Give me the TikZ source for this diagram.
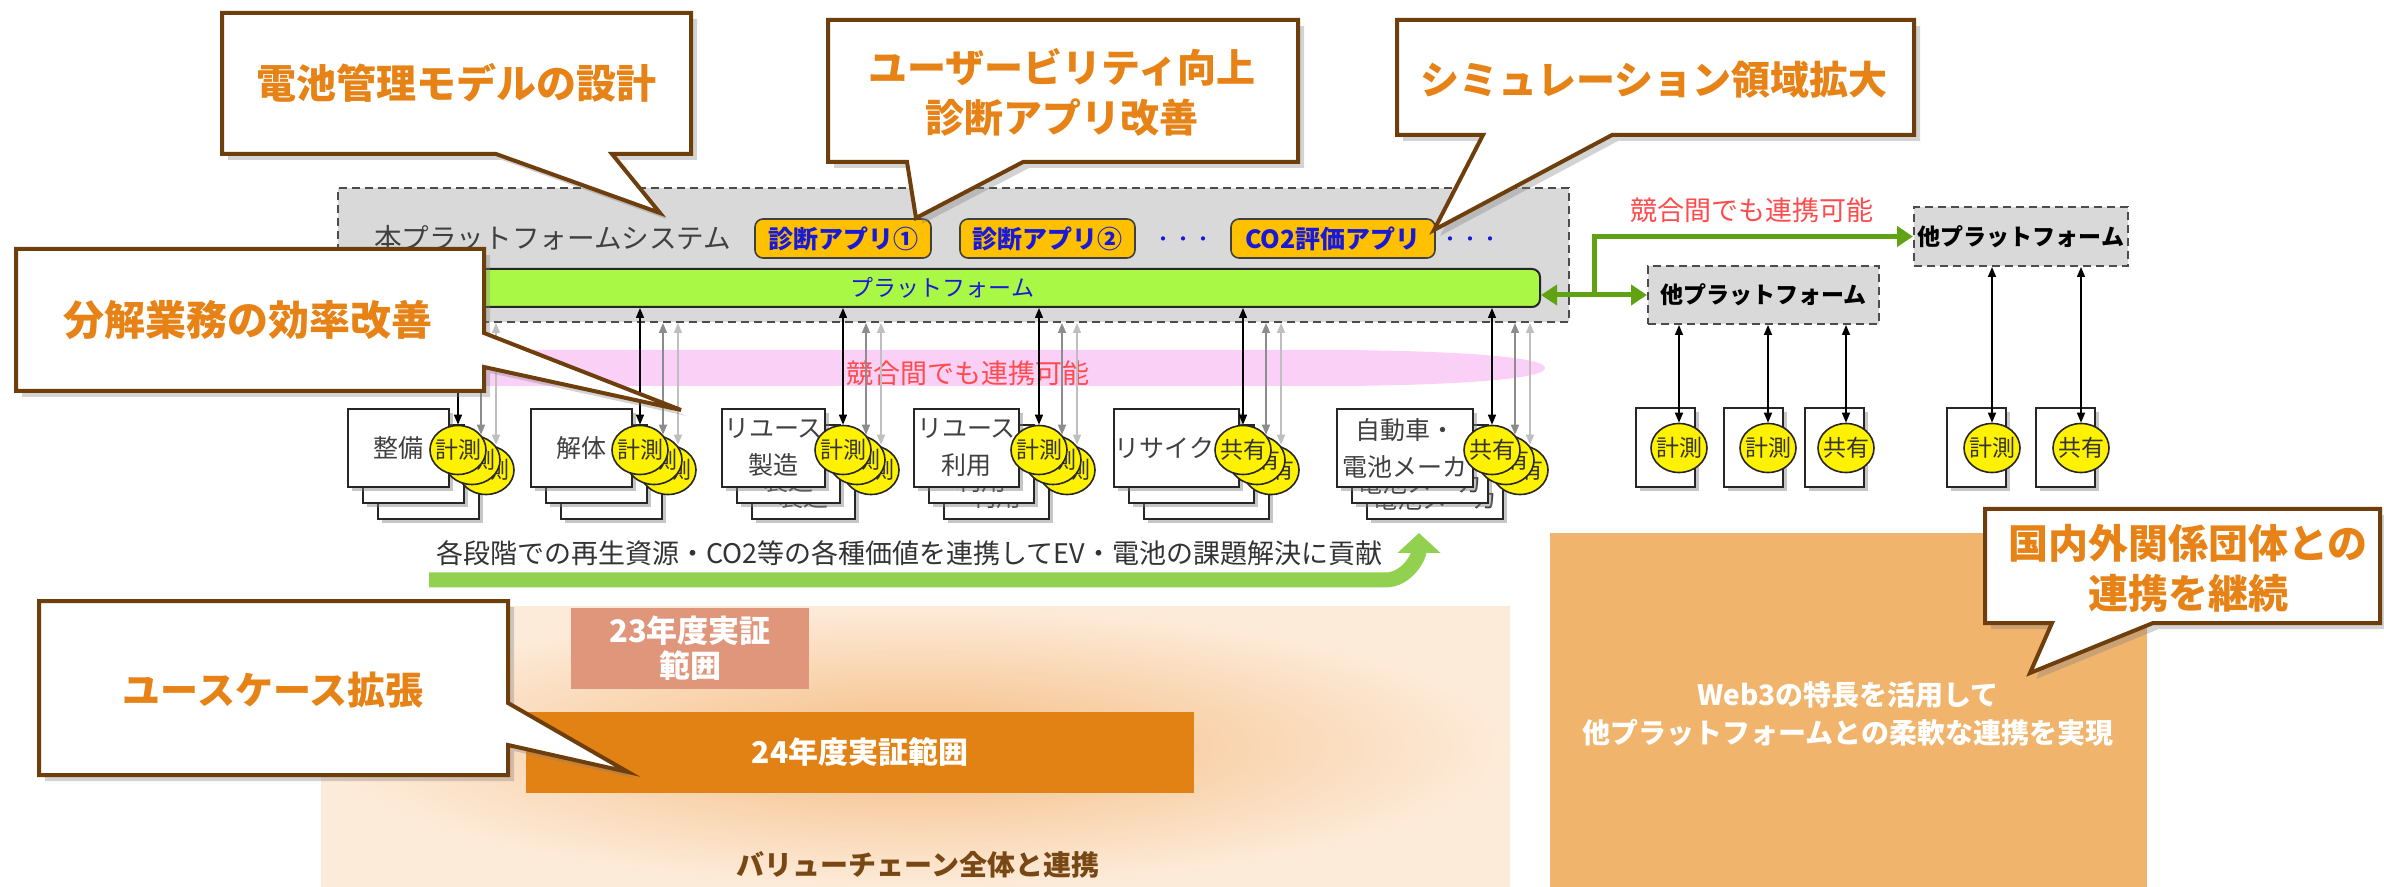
\documentclass[tikz,border=0pt]{standalone}
\usepackage{fontspec}
\setmainfont{Noto Sans CJK JP}
\usetikzlibrary{arrows.meta,shadows,shapes.geometric,fit}
\definecolor{cbrown}{RGB}{110,62,12}
\definecolor{corange}{RGB}{230,130,22}
\definecolor{appfill}{RGB}{255,192,0}
\definecolor{appblue}{RGB}{25,25,215}
\definecolor{barfill}{RGB}{170,248,70}
\definecolor{sysgray}{RGB}{217,217,217}
\definecolor{redtxt}{RGB}{255,75,75}
\definecolor{pinkband}{RGB}{250,208,246}
\definecolor{ggreen}{RGB}{96,163,18}
\definecolor{lgreen}{RGB}{146,208,80}
\definecolor{salmon}{RGB}{224,150,122}
\definecolor{dorange}{RGB}{227,130,20}
\definecolor{webfill}{RGB}{241,180,108}
\definecolor{panelin}{RGB}{245,188,130}
\definecolor{panelout}{RGB}{253,235,217}
\definecolor{brtxt}{RGB}{120,72,20}
\newcommand\fsz[2]{\fontsize{#1}{#2}\selectfont}
\newcommand\mkstack[6]{%
  \foreach \o/\dx/\dy in {2/30/32,1/15/16,0/0/0}{%
    \node[srect,fit={(#2+\dx,409+\dy)(#3+\dx,487+\dy)},label={[stext]center:{#4}}] (#1r\o) {};
  }%
  \foreach \o/\dx/\dy in {2/28/20,1/14/10,0/0/0}{%
    \node[yell,label={[etext]center:#6}] (#1e\o) at (#5+\dx,450+\dy) {};
  }%
}
\begin{document}
\begin{tikzpicture}[x=0.5pt,y=-0.5pt,
  callout/.style={draw=cbrown,line width=2pt,fill=white,line join=miter,drop shadow={opacity=0.35,shadow xshift=3pt,shadow yshift=-3pt}},
  ctext/.style={text=corange,font=\bfseries\fsz{20}{25},align=center},
  sysbox/.style={draw=black!70,dash pattern=on 4pt off 2.5pt,line width=1pt,fill=sysgray,inner sep=0pt},
  app/.style={draw=black!75,line width=0.8pt,fill=appfill,rounded corners=4pt,inner sep=0pt},
  apptext/.style={text=appblue,font=\bfseries\fsz{12.5}{12.5}},
  barst/.style={draw=black!85,line width=1pt,fill=barfill,rounded corners=4pt,inner sep=0pt},
  srect/.style={draw=black!85,fill=white,line width=0.8pt,inner sep=0pt,drop shadow={opacity=0.45,shadow xshift=2pt,shadow yshift=-2pt}},
  stext/.style={text=black!75,font=\fsz{12.5}{18.5},align=center},
  yell/.style={ellipse,draw=black!85,fill=yellow,line width=0.8pt,minimum width=28pt,minimum height=24.5pt,inner sep=0pt},
  etext/.style={text=black!80,font=\fsz{11.5}{11.5}},
  dbl/.style={<->,>={Triangle[length=5pt,width=4pt]},line width=0.75pt,draw=black},
  dblg/.style={dbl,draw=black!45},
  dbll/.style={dbl,draw=black!25},
  garrow/.style={draw=ggreen,line width=2.5pt},
  redt/.style={text=redtxt,font=\fsz{13.5}{13.5}},
  otherp/.style={sysbox,label={[font=\bfseries\fsz{11.5}{11.5}]center:他プラットフォーム}}
]
\useasboundingbox (0,0) rectangle (2384,887);

% ---------- bottom panels ----------
\node[fit={(321,606)(1510,887)},inner sep=0pt,shade,inner color=panelin,outer color=panelout] (panel) {};
\node[fit={(571,608)(809,689)},inner sep=0pt,fill=salmon,
  label={[text=white,font=\bfseries\fsz{15.5}{17.5},align=center]center:{23年度実証\\範囲}}] (y23) {};
\node[fit={(526,712)(1194,793)},inner sep=0pt,fill=dorange,
  label={[text=white,font=\bfseries\fsz{15}{15}]center:24年度実証範囲}] (y24) {};
\node[text=brtxt,font=\bfseries\fsz{14}{14}] (vc) at (918,865) {バリューチェーン全体と連携};
\node[fit={(1550,533)(2147,887)},inner sep=0pt,fill=webfill] (web) {};
\node[text=white,font=\bfseries\fsz{14}{19},align=center] (webt) at (1848,714) {Web3の特長を活用して\\他プラットフォームとの柔軟な連携を実現};

% ---------- platform system ----------
\node[sysbox,fit={(338,188)(1569,322)}] (sys) {};
\node[anchor=west,text=black!75,font=\fsz{13.8}{13.8}] (systitle) at (367,238) {本プラットフォームシステム};
\node[app,fit={(755,219)(931,258)},label={[apptext]center:診断アプリ①}] (a1) {};
\node[app,fit={(960,219)(1135,258)},label={[apptext]center:診断アプリ②}] (a2) {};
\node[text=appblue,font=\fsz{10}{10}] (dots1) at (1183,242) {・・・};
\node[app,fit={(1231,219)(1435,258)},label={[apptext]center:CO2評価アプリ}] (a3) {};
\node[text=appblue,font=\fsz{10}{10}] (dots2) at (1470,242) {・・・};
\node[barst,fit={(345,269)(1540,307)},label={[text=appblue,font=\fsz{11.5}{11.5}]center:プラットフォーム}] (bar) {};

% pink band
\path[fill=pinkband] (330,350) -- (1350,350) .. controls (1500,352) and (1545,360) .. (1545,368)
  .. controls (1545,376) and (1500,384) .. (1350,386) -- (330,386) -- cycle;
\node[redt] (comp1) at (968,373) {競合間でも連携可能};

% ---------- stakeholder stacks ----------
\mkstack{s1}{348}{449}{整備}{458}{計測}
\mkstack{s2}{531}{632}{解体}{640}{計測}
\mkstack{s3}{722}{825}{リユース\\製造}{843}{計測}
\mkstack{s4}{914}{1019}{リユース\\利用}{1039}{計測}
\mkstack{s5}{1114}{1239}{リサイクル}{1243}{共有}
\mkstack{s6}{1337}{1473}{自動車・\\電池メーカ}{1492}{共有}

\foreach \n in {s1,s2,s3,s4,s5,s6}{
  \draw[dbll] ([xshift=5pt]\n e2.north |- sys.south) -- ([xshift=5pt]\n e2.north);
  \draw[dblg] ([xshift=4.5pt]\n e1.north |- sys.south) -- ([xshift=4.5pt]\n e1.north);
  \draw[dbl] (\n e0.north |- bar.south) -- (\n e0.north);
}

% ---------- other platforms ----------
\node[otherp,fit={(1648,266)(1879,324)}] (lowP) {};
\node[otherp,fit={(1914,207)(2128,266)}] (upP) {};
\node[redt] (comp2) at (1752,210) {競合間でも連携可能};
\coordinate (jn) at (1594,295);
\draw[garrow,<->,>={Triangle[length=8pt,width=10pt]}] (bar.east |- jn) -- (lowP.west |- jn);
\draw[garrow,->,>={Triangle[length=8pt,width=10pt]}] (jn) |- (upP.west);

\foreach \n/\l/\cx/\t in {rA/1636/1679/計測,rB/1724/1768/計測,rC/1805/1846/共有,rD/1947/1992/計測,rE/2036/2081/共有}{
  \node[srect,fit={(\l,408)(\l+59,487)}] (\n) {};
  \node[yell,label={[etext]center:\t}] (\n e) at (\cx,448) {};
}
\foreach \n in {rA,rB,rC}{\draw[dbl] (\n e.north |- lowP.south) -- (\n e.north);}
\foreach \n in {rD,rE}{\draw[dbl] (\n e.north |- upP.south) -- (\n e.north);}

% ---------- value chain arrow ----------
\coordinate (gs) at (429,580);
\coordinate (ge) at (1419,533);
\draw[draw=lgreen,line width=7.5pt,-{Triangle[length=10pt,width=21pt]}] (gs) -- (1385,580) to[out=0,in=-90] (ge);
\node[anchor=west,text=black!80,font=\fsz{13.5}{13.5}] (gtext) at (429,553) {各段階での再生資源・CO2等の各種価値を連携してEV・電池の課題解決に貢献};

% ---------- callouts ----------
\path[callout] (222,13) -- (691,13) -- (691,154) -- (612,154) -- (660,213) -- (496,154) -- (222,154) -- cycle;
\node[ctext] (c1) at (456,83) {電池管理モデルの設計};
\path[callout] (828,20) -- (1298,20) -- (1298,162) -- (1023,162) -- (916,218) -- (907,162) -- (828,162) -- cycle;
\node[ctext,font=\bfseries\fsz{19.5}{25}] (c2) at (1062,92) {ユーザービリティ向上\\診断アプリ改善};
\path[callout] (1397,20) -- (1914,20) -- (1914,135) -- (1612,135) -- (1434,230) -- (1483,135) -- (1397,135) -- cycle;
\node[ctext,font=\bfseries\fsz{19.5}{25}] (c3) at (1654,80) {シミュレーション領域拡大};
\path[callout] (16,249) -- (484,249) -- (484,333) -- (681,410) -- (484,367) -- (484,391) -- (16,391) -- cycle;
\node[ctext,font=\bfseries\fsz{20.5}{25}] (c4) at (248,320) {分解業務の効率改善};
\path[callout] (39,601) -- (508,601) -- (508,703) -- (628,772) -- (508,745) -- (508,775) -- (39,775) -- cycle;
\node[ctext,font=\bfseries\fsz{19}{25}] (c5) at (273,690) {ユースケース拡張};
\path[callout] (1985,509) -- (2380,509) -- (2380,623) -- (2153,623) -- (2030,673) -- (2052,623) -- (1985,623) -- cycle;
\node[ctext] (c6) at (2188,568) {国内外関係団体との\\連携を継続};
\end{tikzpicture}
\end{document}
